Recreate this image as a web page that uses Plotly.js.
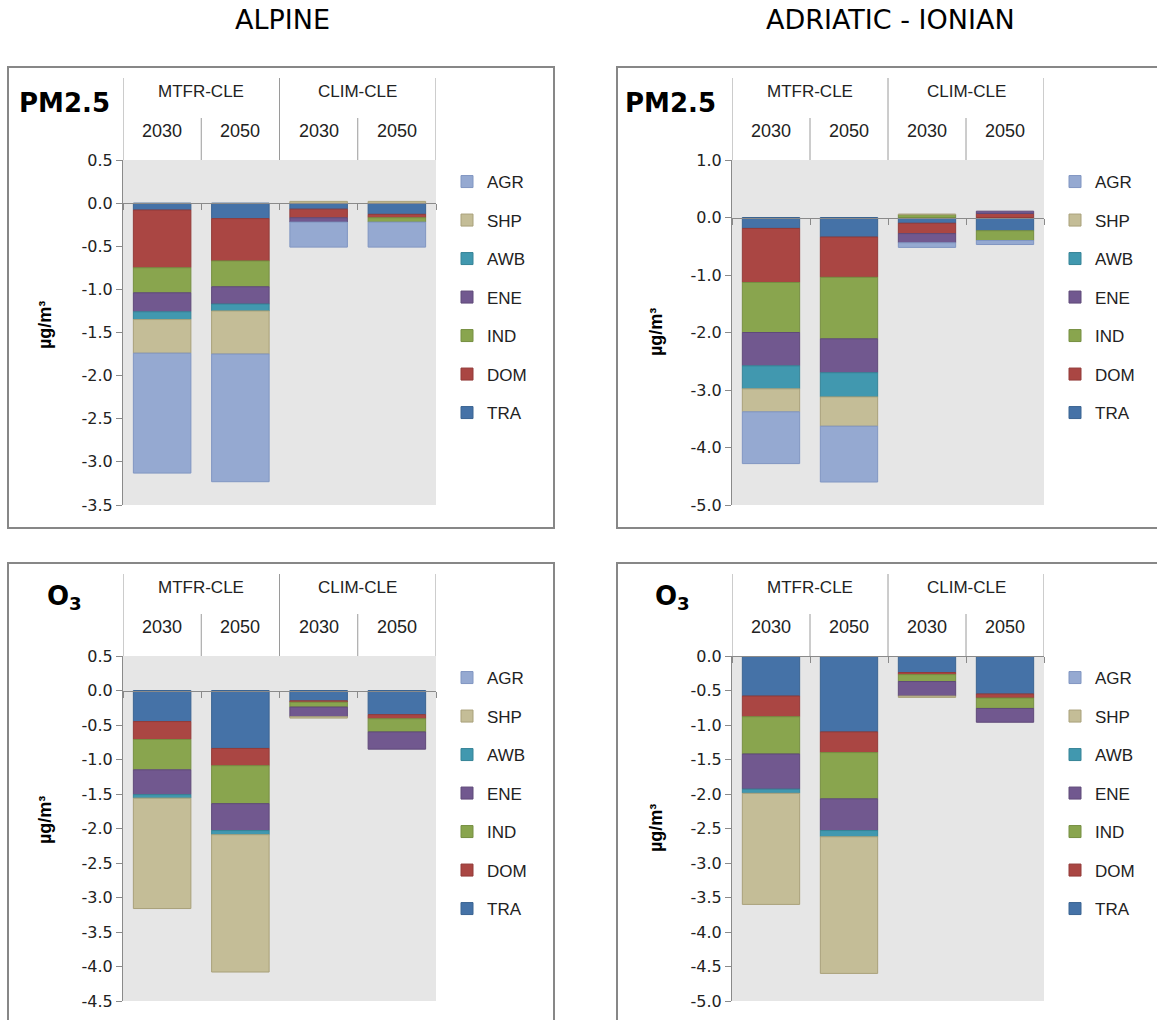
<!DOCTYPE html>
<html>
<head>
<meta charset="utf-8">
<script src="https://cdn.plot.ly/plotly-3.0.1.min.js"></script>
<style>html,body{margin:0;padding:0;background:#fff;}#chart{width:1157px;height:1020px;}</style>
</head>
<body>
<div id="chart"></div>
<script>
// ---------------- DATA ----------------
const sectors = ['TRA', 'DOM', 'IND', 'ENE', 'AWB', 'SHP', 'AGR'];
const scenarios = ['MTFR-CLE', 'CLIM-CLE'];
const years = ['2030', '2050'];
const categories = ['MTFR-CLE 2030', 'MTFR-CLE 2050', 'CLIM-CLE 2030', 'CLIM-CLE 2050'];
const regionTitles = ['ALPINE', 'ADRIATIC - IONIAN'];
const pollutantLabels = ['PM2.5', 'O<sub>3</sub>'];
const unitLabel = 'µg/m³';

// y tick labels per panel
const ticksPm25Alpine = [0.5, 0.0, -0.5, -1.0, -1.5, -2.0, -2.5, -3.0, -3.5];
const ticksPm25Adriatic = [1.0, 0.0, -1.0, -2.0, -3.0, -4.0, -5.0];
const ticksO3Alpine = [0.5, 0.0, -0.5, -1.0, -1.5, -2.0, -2.5, -3.0, -3.5, -4.0, -4.5];
const ticksO3Adriatic = [0.0, -0.5, -1.0, -1.5, -2.0, -2.5, -3.0, -3.5, -4.0, -4.5, -5.0];

// values per sector (rows in `sectors` order), columns in `categories` order
const pm25Alpine = [
  [-0.08, -0.18, -0.07, -0.13],   // TRA
  [-0.67, -0.49, -0.10, -0.04],   // DOM
  [-0.29, -0.30, null, -0.05],    // IND
  [-0.22, -0.20, -0.05, null],    // ENE
  [-0.09, -0.08, null, null],     // AWB
  [-0.39, -0.50, 0.02, 0.02],     // SHP
  [-1.39, -1.48, -0.29, -0.29]    // AGR
];
const pm25Adriatic = [
  [-0.19, -0.34, -0.10, -0.23],
  [-0.94, -0.70, -0.18, 0.07],
  [-0.87, -1.07, 0.05, -0.17],
  [-0.58, -0.59, -0.16, 0.04],
  [-0.40, -0.42, null, null],
  [-0.40, -0.51, 0.01, null],
  [-0.90, -0.97, -0.08, -0.07]
];
const o3Alpine = [
  [-0.45, -0.84, -0.15, -0.35],
  [-0.26, -0.25, -0.02, -0.06],
  [-0.44, -0.55, -0.07, -0.19],
  [-0.36, -0.39, -0.14, -0.25],
  [-0.05, -0.06, null, null],
  [-1.60, -1.99, -0.02, null],
  [null, null, null, null]
];
const o3Adriatic = [
  [-0.58, -1.10, -0.24, -0.55],
  [-0.30, -0.30, -0.03, -0.06],
  [-0.54, -0.67, -0.10, -0.15],
  [-0.51, -0.46, -0.21, -0.20],
  [-0.06, -0.09, null, null],
  [-1.61, -1.98, -0.02, null],
  [null, null, null, null]
];

// ---------------- STYLE ----------------
const W = 1157, H = 1020;
const fillColors = {TRA:'#4572a7', DOM:'#aa4643', IND:'#89a54e', ENE:'#71588f', AWB:'#4198af', SHP:'#c4bd97', AGR:'#95a9d1'};
const lineColors = {TRA:'#3b6492', DOM:'#923b39', IND:'#768f42', ENE:'#5f4a79', AWB:'#368497', SHP:'#a9a17a', AGR:'#8096c2'};
const px = x => x / W;
const py = y => 1 - y / H;

const panels = [
  {id:'', data:pm25Alpine, ticks:ticksPm25Alpine, label:pollutantLabels[0], left:123, right:436, top:160, bottom:505,
   box:[8,67,554,528], legendX:447, legendY:164, unitX:45, unitY:325, labelX:64, labelY:103},
  {id:'2', data:pm25Adriatic, ticks:ticksPm25Adriatic, label:pollutantLabels[0], left:732, right:1044, top:160, bottom:505,
   box:[617,67,1162,528], legendX:1055, legendY:164, unitX:656, unitY:332, labelX:670, labelY:103},
  {id:'3', data:o3Alpine, ticks:ticksO3Alpine, label:pollutantLabels[1], left:123, right:436, top:656, bottom:1001,
   box:[8,563,554,1030], legendX:447, legendY:660, unitX:45, unitY:820, labelX:64, labelY:597},
  {id:'4', data:o3Adriatic, ticks:ticksO3Adriatic, label:pollutantLabels[1], left:732, right:1044, top:656, bottom:1001,
   box:[617,563,1162,1030], legendX:1055, legendY:660, unitX:656, unitY:828, labelX:672, labelY:597}
];

const traces = [];
const layout = {
  width: W, height: H,
  margin: {l:0, r:0, t:0, b:0},
  paper_bgcolor: '#ffffff',
  plot_bgcolor: '#e6e6e6',
  barmode: 'relative',
  bargap: 0.265,
  showlegend: true,
  shapes: [],
  annotations: [],
  font: {family: 'DejaVu Sans', color: '#000'}
};

const axisGray = '#8a8a8a';
const headerGray = '#9a9a9a';

panels.forEach((p, pi) => {
  const xName = 'x' + p.id, yName = 'y' + p.id;
  const legName = 'legend' + p.id;
  p.data.forEach((vals, si) => {
    const s = sectors[si];
    traces.push({
      type: 'bar', x: categories, y: vals, name: s,
      xaxis: xName, yaxis: yName, legend: legName,
      legendgroup: 'p' + pi + s,
      legendrank: 100 - si,
      marker: {color: fillColors[s], line: {color: lineColors[s], width: 1}},
      hoverinfo: 'name+y'
    });
  });
  const yMin = Math.min(...p.ticks), yMax = Math.max(...p.ticks);
  const yDom = [py(p.bottom), py(p.top)];
  const zeroFrac = (0 - yMin) / (yMax - yMin);
  const zeroPos = yDom[0] + zeroFrac * (yDom[1] - yDom[0]);
  layout['xaxis' + p.id] = {
    domain: [px(p.left), px(p.right)], anchor: 'free', position: zeroPos,
    type: 'category', range: [-0.5, 3.5], fixedrange: true,
    showline: true, linecolor: axisGray, linewidth: 1,
    ticks: 'outside', tickson: 'boundaries', ticklen: 6, tickcolor: axisGray,
    showticklabels: false, showgrid: false, zeroline: false
  };
  layout['yaxis' + p.id] = {
    domain: yDom, anchor: xName, range: [yMin, yMax],
    tickmode: 'array', tickvals: p.ticks, ticktext: p.ticks.map(v => v.toFixed(1)),
    showline: true, linecolor: axisGray, linewidth: 1,
    ticks: 'outside', ticklen: 6, tickcolor: axisGray,
    tickfont: {family: 'DejaVu Sans', size: 16, color: '#222'},
    showgrid: false, zeroline: false, fixedrange: true
  };
  layout[legName] = {
    x: px(p.legendX), y: py(p.legendY), xanchor: 'left', yanchor: 'top',
    bgcolor: 'rgba(0,0,0,0)', borderwidth: 0,
    font: {family: 'Liberation Sans', size: 17, color: '#222'},
    traceorder: 'grouped', tracegroupgap: 13.4
  };
  // panel frame
  layout.shapes.push({type:'rect', xref:'paper', yref:'paper', layer:'below',
    x0: px(p.box[0]), y0: py(p.box[1]), x1: px(p.box[2]), y1: py(p.box[3]),
    line: {color: '#878787', width: 2}, fillcolor: 'rgba(0,0,0,0)'});
  // header divider lines
  const hdrTop = p.top - 82, yrTop = p.top - 42;
  [-0.5, 1.5, 3.5].forEach(xv => layout.shapes.push({type:'line', xref:xName, yref:'paper',
    x0: xv, x1: xv, y0: py(hdrTop), y1: py(p.top), line: {color: headerGray, width: 1}}));
  [0.5, 2.5].forEach(xv => layout.shapes.push({type:'line', xref:xName, yref:'paper',
    x0: xv, x1: xv, y0: py(yrTop), y1: py(p.top), line: {color: headerGray, width: 1}}));
  // header labels
  scenarios.forEach((sc, k) => layout.annotations.push({xref:xName, yref:'paper',
    x: 2 * k + 0.5, y: py(p.top - 69), text: sc, showarrow: false,
    xanchor: 'center', yanchor: 'middle',
    font: {family: 'Liberation Sans', size: 17, color: '#222'}}));
  categories.forEach((c, k) => layout.annotations.push({xref:xName, yref:'paper',
    x: k, y: py(p.top - 29), text: years[k % 2], showarrow: false,
    xanchor: 'center', yanchor: 'middle',
    font: {family: 'Liberation Sans', size: 18, color: '#222'}}));
  // pollutant label
  layout.annotations.push({xref:'paper', yref:'paper', x: px(p.labelX), y: py(p.labelY),
    text: '<b>' + p.label + '</b>', showarrow: false, xanchor: 'center', yanchor: 'middle',
    font: {family: 'DejaVu Sans', size: 26, color: '#000'}});
  // unit label
  layout.annotations.push({xref:'paper', yref:'paper', x: px(p.unitX), y: py(p.unitY),
    text: '<b>' + unitLabel + '</b>', showarrow: false, textangle: -90,
    xanchor: 'center', yanchor: 'middle',
    font: {family: 'Liberation Sans', size: 18, color: '#000'}});
});

// region titles
layout.annotations.push({xref:'paper', yref:'paper', x: px(282), y: py(19), text: regionTitles[0],
  showarrow:false, xanchor:'center', yanchor:'middle', font:{family:'DejaVu Sans', size:27, color:'#000'}});
layout.annotations.push({xref:'paper', yref:'paper', x: px(890), y: py(19), text: regionTitles[1],
  showarrow:false, xanchor:'center', yanchor:'middle', font:{family:'DejaVu Sans', size:27, color:'#000'}});

Plotly.newPlot('chart', traces, layout, {displayModeBar: false, staticPlot: true});
</script>
</body>
</html>
